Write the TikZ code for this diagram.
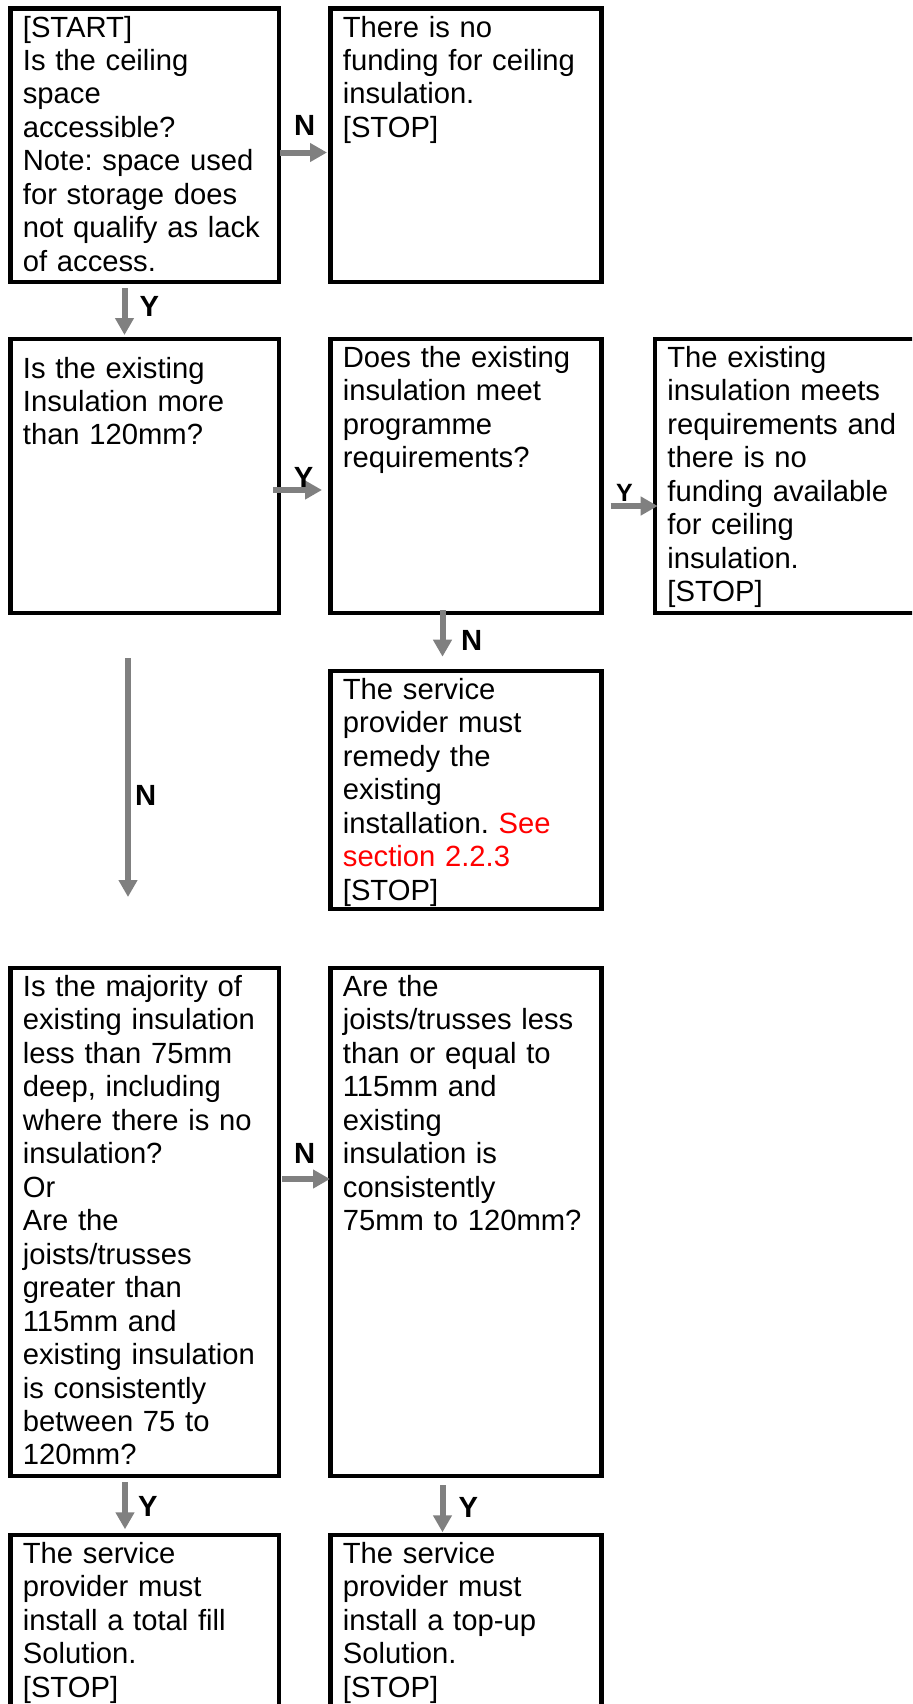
\documentclass[tikz,border=0pt]{standalone}
\usepackage{fontspec}
\setmainfont{Liberation Sans}
\usetikzlibrary{arrows.meta}
\frenchspacing

\begin{document}
\begin{tikzpicture}[x=0.5pt,y=-0.5pt,
    box/.style={draw=black, line width=2.2pt, anchor=north west, inner sep=0pt, outer sep=0pt, minimum width=134.25pt},
    wbox/.style={box, minimum width=135.5pt},
    txt/.style={anchor=base west, inner sep=0pt, text width=150pt, align=left, font=\fontsize{14.6pt}{16.73pt}\selectfont},
    arr/.style={draw=gray, line width=3pt, -{Triangle[length=8.5pt,width=9pt]}},
    lbl/.style={inner sep=0pt, font=\fontsize{14.6pt}{16.73pt}\selectfont\bfseries}]

                \useasboundingbox (0,0) rectangle (912,1704);
                \clip (0,0) rectangle (912,1704);

                \node[box, minimum height=136.7pt] (start) at (10.5,8.3) {};
                \node[wbox, minimum height=136.7pt] (nofund) at (330.5,8.3) {};
                \node[box, minimum height=137pt] (depth) at (10.5,339) {};
                \node[wbox, minimum height=137pt] (meet) at (330.5,339) {};
                \node[box, minimum width=150pt, minimum height=137pt] (meetstop) at (655,339) {};
                \node[wbox, minimum height=119pt] (remedy) at (330.5,671) {};
                \node[box, minimum height=254pt] (majority) at (10.5,968) {};
                \node[wbox, minimum height=254pt] (joists) at (330.5,968) {};
                \node[box, minimum height=100pt] (totalfill) at (10.5,1535) {};
                \node[wbox, minimum height=100pt] (topup) at (330.5,1535) {};

                \node[txt] (start-t) at (22.5,37) {[START]\\Is the ceiling\\space\\accessible?\\Note: space used\\for storage does\\not qualify as lack\\of access.};
                \node[txt] (nofund-t) at (342.5,37) {There is no\\funding for ceiling\\insulation.\\{}[STOP]};
                \node[txt] (depth-t) at (22.5,378) {Is the existing\\Insulation more\\than 120mm?};
                \node[txt] (meet-t) at (342.5,367.5) {Does the existing\\insulation meet\\programme\\requirements?};
                \node[txt] (meetstop-t) at (667,367.5) {The existing\\insulation meets\\requirements and\\there is no\\funding available\\for ceiling\\insulation.\\{}[STOP]};
                \node[txt] (remedy-t) at (342.5,699.5) {The service\\provider must\\remedy the\\existing\\installation. \textcolor{red}{See}\\\textcolor{red}{section 2.2.3}\\{}[STOP]};
                \node[txt] (majority-t) at (22.5,996.5) {Is the majority of\\existing insulation\\less than 75mm\\deep, including\\where there is no\\insulation?\\Or\\Are the\\joists/trusses\\greater than\\115mm and\\existing insulation\\is consistently\\between 75 to\\120mm?};
                \node[txt] (joists-t) at (342.5,996.5) {Are the\\joists/trusses less\\than or equal to\\115mm and\\existing\\insulation is\\consistently\\75mm to 120mm?};
                \node[txt] (totalfill-t) at (22.5,1563.5) {The service\\provider must\\install a total fill\\Solution.\\{}[STOP]};
                \node[txt] (topup-t) at (342.5,1563.5) {The service\\provider must\\install a top-up\\Solution.\\{}[STOP]};

                \draw[arr, shorten <=0.5pt, shorten >=1.75pt] (start.east |- 0,152.5) -- node[lbl, above=7.25pt] {N} (nofund.west |- 0,152.5);
                \draw[arr, shorten <=3.15pt, shorten >=2pt] (124.5,0 |- start.south) -- node[lbl, right=6pt, pos=0.44] {Y} (124.5,0 |- depth.north);

                \draw[arr, shorten <=-3pt, shorten >=4.25pt] (depth.east |- 0,490) -- node[lbl, above=0pt, pos=0.48] {Y} (meet.west |- 0,490);
                \draw[arr, shorten <=4.6pt, shorten >=-1.35pt] (meet.east |- 0,506) -- node[lbl, above=0.8pt, pos=0.43, font=\fontsize{12.5pt}{14pt}\selectfont\bfseries] {Y} (meetstop.west |- 0,506);
                \draw[arr, shorten <=-1.5pt, shorten >=7.15pt] (442.5,0 |- meet.south) -- node[lbl, right=7.75pt, pos=0.48] {N} (442.5,0 |- remedy.north);
                \draw[arr, shorten <=22.5pt, shorten >=35.5pt] (128,0 |- depth.south) -- node[lbl, right=2pt, pos=0.515] {N} (128,0 |- majority.north);

                \draw[arr, shorten <=1.5pt, shorten >=0.25pt] (majority.east |- 0,1179) -- node[lbl, above=6.5pt] {N} (joists.west |- 0,1179);
                \draw[arr, shorten <=3.15pt, shorten >=2.85pt] (125,0 |- majority.south) -- node[lbl, right=5pt, pos=0.52] {Y} (125,0 |- totalfill.north);
                \draw[arr, shorten <=4.5pt, shorten >=1.35pt] (442.5,0 |- joists.south) -- node[lbl, right=6.5pt, pos=0.525] {Y} (442.5,0 |- topup.north);
            \end{tikzpicture}
\end{document}
